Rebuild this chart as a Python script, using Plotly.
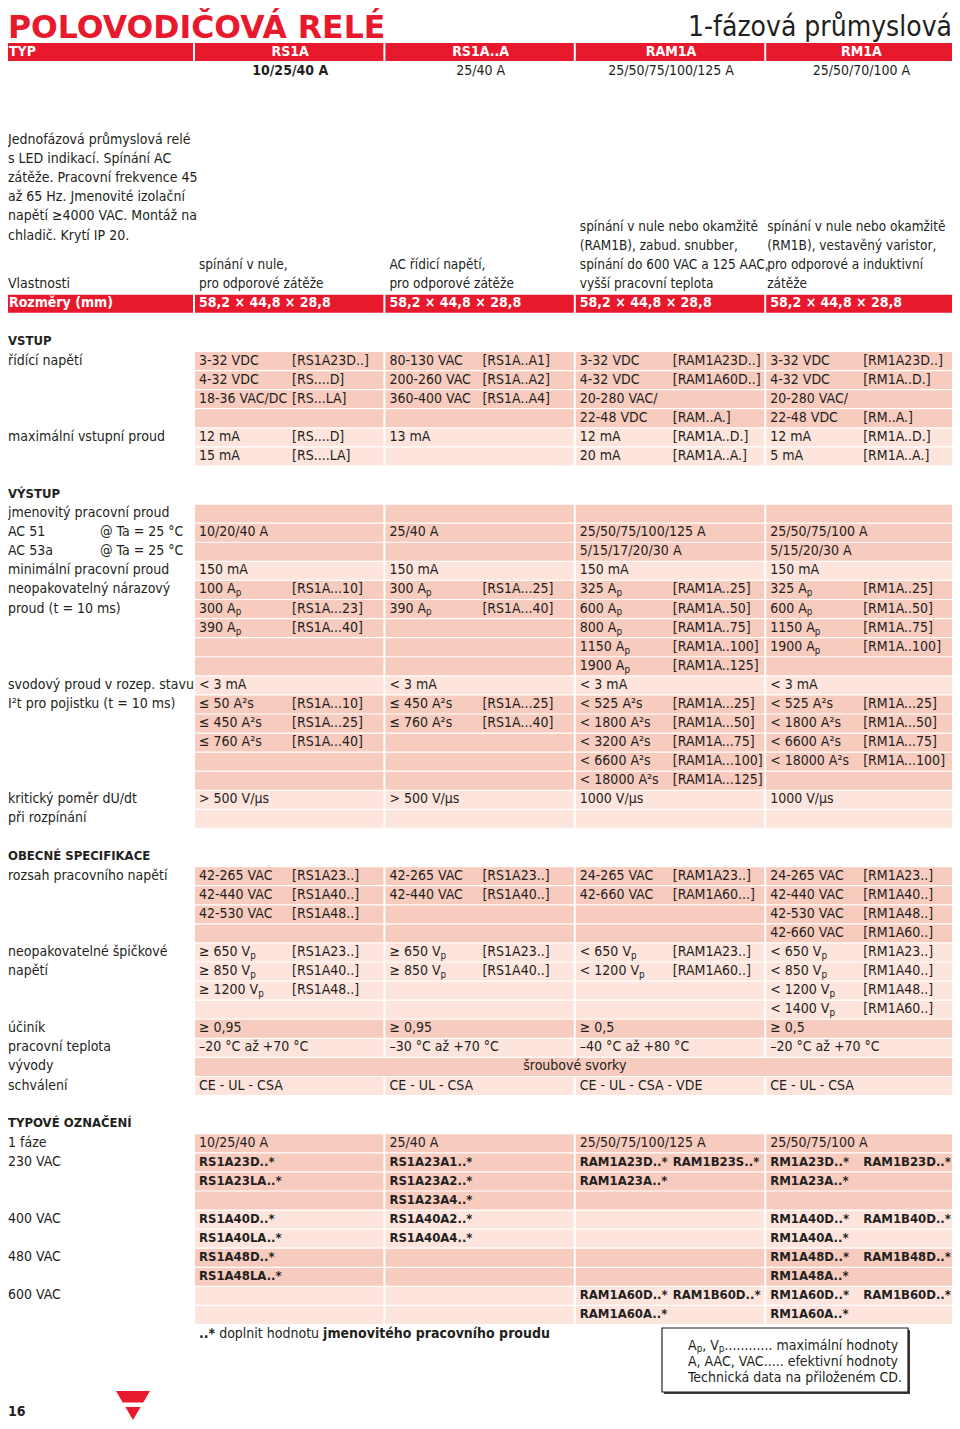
import plotly.graph_objects as go

# ---- page texts ----
title = "POLOVODIČOVÁ RELÉ"
subtitle = "1-fázová průmyslová"
type_label = "TYP"
type_names = ["RS1A", "RS1A..A", "RAM1A", "RM1A"]
type_ranges = ["10/25/40 A", "25/40 A", "25/50/75/100/125 A", "25/50/70/100 A"]
intro_lines = [
    "Jednofázová průmyslová relé",
    "s LED indikací. Spínání AC",
    "zátěže. Pracovní frekvence 45",
    "až 65 Hz. Jmenovité izolační",
    "napětí ≥4000 VAC. Montáž na",
    "chladič. Krytí IP 20.",
]
features_label = "Vlastnosti"
type_features = [
    ["spínání v nule,", "pro odporové zátěže"],
    ["AC řídicí napětí,", "pro odporové zátěže"],
    ["spínání v nule nebo okamžitě", "(RAM1B), zabud. snubber,",
     "spínání do 600 VAC a 125 AAC,", "vyšší pracovní teplota"],
    ["spínání v nule nebo okamžitě", "(RM1B), vestavěný varistor,",
     "pro odporové a induktivní", "zátěže"],
]
dims_label = "Rozměry (mm)"
dimensions = ["58,2 × 44,8 × 28,8"] * 4

# ---- table sections: groups of (row labels, rows); a cell is "", "value" or (value, code) ----
vstup_groups = [
    (["řídící napětí"], [
        [("3-32 VDC", "[RS1A23D..]"), ("80-130 VAC", "[RS1A..A1]"), ("3-32 VDC", "[RAM1A23D..]"), ("3-32 VDC", "[RM1A23D..]")],
        [("4-32 VDC", "[RS....D]"), ("200-260 VAC", "[RS1A..A2]"), ("4-32 VDC", "[RAM1A60D..]"), ("4-32 VDC", "[RM1A..D.]")],
        [("18-36 VAC/DC", "[RS...LA]"), ("360-400 VAC", "[RS1A..A4]"), "20-280 VAC/", "20-280 VAC/"],
        ["", "", ("22-48 VDC", "[RAM..A.]"), ("22-48 VDC", "[RM..A.]")],
    ]),
    (["maximální vstupní proud"], [
        [("12 mA", "[RS....D]"), "13 mA", ("12 mA", "[RAM1A..D.]"), ("12 mA", "[RM1A..D.]")],
        [("15 mA", "[RS....LA]"), "", ("20 mA", "[RAM1A..A.]"), ("5 mA", "[RM1A..A.]")],
    ]),
]

vystup_groups = [
    (["jmenovitý pracovní proud", "AC 51\t@ Ta = 25 °C", "AC 53a\t@ Ta = 25 °C"], [
        ["", "", "", ""],
        ["10/20/40 A", "25/40 A", "25/50/75/100/125 A", "25/50/75/100 A"],
        ["", "", "5/15/17/20/30 A", "5/15/20/30 A"],
    ]),
    (["minimální pracovní proud"], [
        ["150 mA", "150 mA", "150 mA", "150 mA"],
    ]),
    (["neopakovatelný nárazový", "proud (t = 10 ms)"], [
        [("100 A<sub>p</sub>", "[RS1A...10]"), ("300 A<sub>p</sub>", "[RS1A...25]"), ("325 A<sub>p</sub>", "[RAM1A..25]"), ("325 A<sub>p</sub>", "[RM1A..25]")],
        [("300 A<sub>p</sub>", "[RS1A...23]"), ("390 A<sub>p</sub>", "[RS1A...40]"), ("600 A<sub>p</sub>", "[RAM1A..50]"), ("600 A<sub>p</sub>", "[RM1A..50]")],
        [("390 A<sub>p</sub>", "[RS1A...40]"), "", ("800 A<sub>p</sub>", "[RAM1A..75]"), ("1150 A<sub>p</sub>", "[RM1A..75]")],
        ["", "", ("1150 A<sub>p</sub>", "[RAM1A..100]"), ("1900 A<sub>p</sub>", "[RM1A..100]")],
        ["", "", ("1900 A<sub>p</sub>", "[RAM1A..125]"), ""],
    ]),
    (["svodový proud v rozep. stavu"], [
        ["< 3 mA", "< 3 mA", "< 3 mA", "< 3 mA"],
    ]),
    (["I²t pro pojistku (t = 10 ms)"], [
        [("≤ 50 A²s", "[RS1A...10]"), ("≤ 450 A²s", "[RS1A...25]"), ("< 525 A²s", "[RAM1A...25]"), ("< 525 A²s", "[RM1A...25]")],
        [("≤ 450 A²s", "[RS1A...25]"), ("≤ 760 A²s", "[RS1A...40]"), ("< 1800 A²s", "[RAM1A...50]"), ("< 1800 A²s", "[RM1A...50]")],
        [("≤ 760 A²s", "[RS1A...40]"), "", ("< 3200 A²s", "[RAM1A...75]"), ("< 6600 A²s", "[RM1A...75]")],
        ["", "", ("< 6600 A²s", "[RAM1A...100]"), ("< 18000 A²s", "[RM1A...100]")],
        ["", "", ("< 18000 A²s", "[RAM1A...125]"), ""],
    ]),
    (["kritický poměr dU/dt", "při rozpínání"], [
        ["> 500 V/µs", "> 500 V/µs", "1000 V/µs", "1000 V/µs"],
        ["", "", "", ""],
    ]),
]

obecne_groups = [
    (["rozsah pracovního napětí"], [
        [("42-265 VAC", "[RS1A23..]"), ("42-265 VAC", "[RS1A23..]"), ("24-265 VAC", "[RAM1A23..]"), ("24-265 VAC", "[RM1A23..]")],
        [("42-440 VAC", "[RS1A40..]"), ("42-440 VAC", "[RS1A40..]"), ("42-660 VAC", "[RAM1A60...]"), ("42-440 VAC", "[RM1A40..]")],
        [("42-530 VAC", "[RS1A48..]"), "", "", ("42-530 VAC", "[RM1A48..]")],
        ["", "", "", ("42-660 VAC", "[RM1A60..]")],
    ]),
    (["neopakovatelné špičkové", "napětí"], [
        [("≥ 650 V<sub>p</sub>", "[RS1A23..]"), ("≥ 650 V<sub>p</sub>", "[RS1A23..]"), ("< 650 V<sub>p</sub>", "[RAM1A23..]"), ("< 650 V<sub>p</sub>", "[RM1A23..]")],
        [("≥ 850 V<sub>p</sub>", "[RS1A40..]"), ("≥ 850 V<sub>p</sub>", "[RS1A40..]"), ("< 1200 V<sub>p</sub>", "[RAM1A60..]"), ("< 850 V<sub>p</sub>", "[RM1A40..]")],
        [("≥ 1200 V<sub>p</sub>", "[RS1A48..]"), "", "", ("< 1200 V<sub>p</sub>", "[RM1A48..]")],
        ["", "", "", ("< 1400 V<sub>p</sub>", "[RM1A60..]")],
    ]),
    (["účiník"], [["≥ 0,95", "≥ 0,95", "≥ 0,5", "≥ 0,5"]]),
    (["pracovní teplota"], [["–20 °C až +70 °C", "–30 °C až +70 °C", "–40 °C až +80 °C", "–20 °C až +70 °C"]]),
    (["vývody"], ["šroubové svorky"]),
    (["schválení"], [["CE - UL - CSA", "CE - UL - CSA", "CE - UL - CSA - VDE", "CE - UL - CSA"]]),
]

typove_groups = [
    (["1 fáze", "230 VAC"], [
        ["10/25/40 A", "25/40 A", "25/50/75/100/125 A", "25/50/75/100 A"],
        ["RS1A23D..*", "RS1A23A1..*", ("RAM1A23D..*", "RAM1B23S..*"), ("RM1A23D..*", "RAM1B23D..*")],
        ["RS1A23LA..*", "RS1A23A2..*", "RAM1A23A..*", "RM1A23A..*"],
        ["", "RS1A23A4..*", "", ""],
    ]),
    (["400 VAC"], [
        ["RS1A40D..*", "RS1A40A2..*", "", ("RM1A40D..*", "RAM1B40D..*")],
        ["RS1A40LA..*", "RS1A40A4..*", "", "RM1A40A..*"],
    ]),
    (["480 VAC"], [
        ["RS1A48D..*", "", "", ("RM1A48D..*", "RAM1B48D..*")],
        ["RS1A48LA..*", "", "", "RM1A48A..*"],
    ]),
    (["600 VAC"], [
        ["", "", ("RAM1A60D..*", "RAM1B60D..*"), ("RM1A60D..*", "RAM1B60D..*")],
        ["", "", "RAM1A60A..*", "RM1A60A..*"],
    ]),
]

sections = [
    ("VSTUP", vstup_groups),
    ("VÝSTUP", vystup_groups),
    ("OBECNÉ SPECIFIKACE", obecne_groups),
    ("TYPOVÉ OZNAČENÍ", typove_groups),
]

footnote = "<b>..*</b> doplnit hodnotu <b>jmenovitého pracovního proudu</b>"
legend_lines = [
    "A<sub>p</sub>, V<sub>p</sub>............ maximální hodnoty",
    "A, AAC, VAC..... efektivní hodnoty",
    "Technická data na přiloženém CD.",
]
page_number = "16"
brand = "CARLO GAVAZZI"

# ---- geometry / styles ----
FONT = "DejaVu Sans Condensed, Liberation Sans, sans-serif"
WIDE = "DejaVu Sans, Liberation Sans, sans-serif"
INK = "#231f20"
RED = "#e8192c"
PINK = ["#f8cbbf", "#fde5de"]
PITCH = 19.08
TOP = 361
COL_W = 190.4
COL_X = [195 + COL_W * i for i in range(4)]
RIGHT = COL_X[3] + COL_W - 2
CODE_DX = 97
PAD = 8  # the page body margin around the figure


def ry(r):
    return TOP + PITCH * r


texts = {}


def put(style, x, y, s, pos="middle right"):
    t = texts.setdefault(style, dict(x=[], y=[], text=[], pos=[]))
    t["x"].append(x)
    t["y"].append(y)
    t["text"].append(s)
    t["pos"].append(pos)


shapes = []


def rect(x0, x1, y0, y1, color, layer="below"):
    shapes.append(dict(type="rect", xref="x", yref="y", x0=x0, x1=x1, y0=y0, y1=y1,
                       fillcolor=color, line_width=0, layer=layer))


def red_bar(yc, label, cells, centered):
    rect(4, COL_X[0] - 2, yc - 9, yc + 9, RED)
    for i in range(4):
        rect(COL_X[i], COL_X[i] + COL_W - 2, yc - 9, yc + 9, RED)
    put("white_b", 9, yc, label)
    for i, c in enumerate(cells):
        if centered:
            put("white_b", COL_X[i] + COL_W / 2, yc, c, "middle center")
        else:
            put("white_b", COL_X[i] + 4, yc, c)


# header
put("title", PAD, 30, title)
put("subtitle", 960 - PAD, 29, subtitle, "middle left")
red_bar(52, type_label, type_names, True)
for i, c in enumerate(type_ranges):
    put("body_b" if i == 0 else "body", COL_X[i] + COL_W / 2, 71, c, "middle center")
for k, line in enumerate(intro_lines):
    put("body", 8, 140 + 19.2 * k, line)
put("body", 8, ry(-4), features_label)
for i, lines in enumerate(type_features):
    n = len(lines)
    for k, line in enumerate(lines):
        put("feature", COL_X[i] + 4 - (3 if i == 3 else 0), ry(-4 - (n - 1 - k)), line)
red_bar(ry(-3), dims_label, dimensions, False)

# table body
r = -1
for sec_title, groups in sections:
    put("head", 8, ry(r), sec_title)
    r += 1
    for g, (labels, rows) in enumerate(groups):
        shade = PINK[g % 2]
        for k, row in enumerate(rows):
            y = ry(r)
            if k < len(labels) and labels[k]:
                parts = labels[k].split("\t")
                put("body", 8, y, parts[0])
                if len(parts) > 1:
                    put("body", 100, y, parts[1])
            if isinstance(row, str):
                rect(COL_X[0], RIGHT, y - PITCH / 2 + 0.6, y + PITCH / 2 - 0.6, shade)
                put("body", (COL_X[0] + RIGHT) / 2, y, row, "middle center")
            else:
                bold = sec_title == "TYPOVÉ OZNAČENÍ" and not (g == 0 and k == 0)
                style = "code_b" if bold else "body"
                for i, cell in enumerate(row):
                    rect(COL_X[i], COL_X[i] + COL_W - 2, y - PITCH / 2 + 0.6, y + PITCH / 2 - 0.6, shade)
                    if isinstance(cell, tuple):
                        put(style, COL_X[i] + 4, y, cell[0])
                        put(style, COL_X[i] + CODE_DX, y, cell[1])
                    elif cell:
                        put(style, COL_X[i] + 4, y, cell)
            r += 1
    r += 1

# footer
put("body", COL_X[0] + 4, ry(r - 1), footnote)
rect(664, 910, 1330, 1394, "#3a3a3a")
shapes.append(dict(type="rect", xref="x", yref="y", x0=662, x1=908, y0=1328, y1=1392,
                   fillcolor="white", line=dict(color=INK, width=1.2), layer="below"))
for k, line in enumerate(legend_lines):
    put("legend", 688, 1346 + 16 * k, line)
put("page", PAD, 1412, page_number)
shapes.append(dict(type="path", xref="x", yref="y", path="M 116 1391 L 150 1391 L 133 1420 Z",
                   fillcolor=RED, line_width=0, layer="below"))
rect(114, 152, 1402.5, 1407, "white", layer="above")
put("brand", 133, 1405, brand, "middle center")

styles = {
    "title": dict(family=WIDE, size=31.5, color=RED, weight="bold"),
    "subtitle": dict(family=FONT, size=28, color=INK),
    "white_b": dict(family=FONT, size=14, color="white", weight="bold"),
    "body": dict(family=FONT, size=14, color=INK),
    "feature": dict(family=FONT, size=13.5, color=INK),
    "body_b": dict(family=FONT, size=14, color=INK, weight="bold"),
    "code_b": dict(family=FONT, size=13, color=INK, weight="bold"),
    "head": dict(family=FONT, size=13, color=INK, weight="bold"),
    "legend": dict(family=FONT, size=14, color=INK),
    "page": dict(family=FONT, size=14, color=INK, weight="bold"),
    "brand": dict(family=FONT, size=4, color=INK, weight="bold"),
}

fig = go.Figure()
for name, t in texts.items():
    fig.add_trace(go.Scatter(x=t["x"], y=t["y"], text=t["text"], textposition=t["pos"],
                             mode="text", textfont=styles[name], hoverinfo="skip", cliponaxis=False))

fig.update_layout(
    width=960 - 2 * PAD, height=1429 - 2 * PAD,
    margin=dict(l=0, r=0, t=0, b=0),
    paper_bgcolor="white", plot_bgcolor="white",
    showlegend=False,
    shapes=shapes,
    xaxis=dict(range=[PAD, 960 - PAD], visible=False, fixedrange=True),
    yaxis=dict(range=[1429 - PAD, PAD], visible=False, fixedrange=True),
)
fig.write_html("out.html")
